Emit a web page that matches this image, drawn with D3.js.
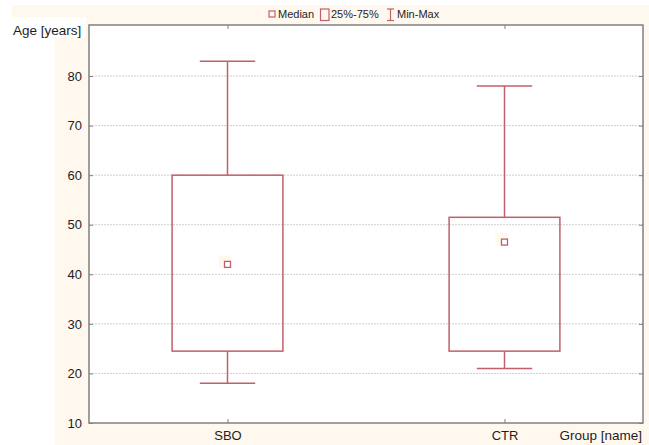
<!DOCTYPE html>
<html>
<head>
<meta charset="utf-8">
<script src="https://cdn.jsdelivr.net/npm/d3@7"></script>
<style>
  html, body { margin: 0; padding: 0; background: #ffffff; }
  svg { display: block; font-family: "Liberation Sans", Arial, sans-serif; }
</style>
</head>
<body>
<svg id="chart" width="649" height="445"></svg>
<script>
// ---- data ----
const categories = ["SBO", "CTR"];
const minValues = [18, 21];
const q1Values = [24.5, 24.5];
const medianValues = [42, 46.5];
const q3Values = [60, 51.5];
const maxValues = [83, 78];
const yTicks = [10, 20, 30, 40, 50, 60, 70, 80];
const legendLabels = ["Median", "25%-75%", "Min-Max"];
const yTitle = "Age [years]";
const xTitle = "Group [name]";

(function () {
const red = "#c0606a";
const frame = "#808080";
const textCol = "#1e1e1e";
const beige = "#fff8ef";

const svg = d3.select("#chart");

// background shapes
svg.append("rect").attr("x", 12).attr("y", 5).attr("width", 637).attr("height", 13).attr("fill", beige);
svg.append("rect").attr("x", 55).attr("y", 17).attr("width", 594).attr("height", 428).attr("fill", beige);
svg.append("rect").attr("x", 12).attr("y", 17).attr("width", 74).attr("height", 21).attr("fill", "#ffffff");

const pLeft = 89, pRight = 643, pTop = 25, pBottom = 423;

const x = d3.scalePoint().domain(categories).range([pLeft, pRight]).padding(0.5);
const y = d3.scaleLinear().domain([10, 90.3]).range([pBottom, pTop]);
const step = x.step();

// plot background
svg.append("rect").attr("x", pLeft).attr("y", pTop).attr("width", pRight - pLeft).attr("height", pBottom - pTop).attr("fill", "#ffffff");

// grid lines
svg.append("g").selectAll("line").data(yTicks.filter(d => d > 10)).join("line")
  .attr("x1", pLeft).attr("x2", pRight)
  .attr("y1", d => y(d)).attr("y2", d => y(d))
  .attr("stroke", "#cfcfcf").attr("stroke-width", 1).attr("stroke-dasharray", "2,1");

// axes
const yAxis = d3.axisLeft(y).tickValues(yTicks).tickSize(-4).tickPadding(7);
const gy = svg.append("g").attr("transform", `translate(${pLeft},0)`).call(yAxis);
gy.select(".domain").remove();
gy.selectAll(".tick line").attr("stroke", frame);
gy.selectAll(".tick text").attr("fill", textCol).style("font-size", "13px").style("font-family", "'Liberation Sans', Arial, sans-serif");

const yAxisR = d3.axisRight(y).tickValues(yTicks).tickSize(-4).tickFormat("");
const gyr = svg.append("g").attr("transform", `translate(${pRight},0)`).call(yAxisR);
gyr.select(".domain").remove();
gyr.selectAll(".tick line").attr("stroke", frame);

const xAxis = d3.axisBottom(x).tickSize(-4).tickPadding(8);
const gx = svg.append("g").attr("transform", `translate(0,${pBottom})`).call(xAxis);
gx.select(".domain").remove();
gx.selectAll(".tick line").attr("stroke", frame);
gx.selectAll(".tick text").attr("fill", textCol).style("font-size", "13px").style("font-family", "'Liberation Sans', Arial, sans-serif");

const xAxisT = d3.axisTop(x).tickSize(-4).tickFormat("");
const gxt = svg.append("g").attr("transform", `translate(0,${pTop})`).call(xAxisT);
gxt.select(".domain").remove();
gxt.selectAll(".tick line").attr("stroke", frame);

// frame
svg.append("rect").attr("x", pLeft).attr("y", pTop).attr("width", pRight - pLeft).attr("height", pBottom - pTop)
  .attr("fill", "none").attr("stroke", frame).attr("stroke-width", 1.5);

// boxes
const data = categories.map((c, i) => ({
  c, min: minValues[i], q1: q1Values[i], med: medianValues[i], q3: q3Values[i], max: maxValues[i]
}));
const boxW = step * 0.4, capW = step * 0.2;
const g = svg.append("g");
data.forEach(d => {
  const cx = x(d.c);
  g.append("line").attr("x1", cx).attr("x2", cx).attr("y1", y(d.max)).attr("y2", y(d.q3)).attr("stroke", red).attr("stroke-width", 1.5);
  g.append("line").attr("x1", cx).attr("x2", cx).attr("y1", y(d.q1)).attr("y2", y(d.min)).attr("stroke", red).attr("stroke-width", 1.5);
  g.append("line").attr("x1", cx - capW / 2).attr("x2", cx + capW / 2).attr("y1", y(d.max)).attr("y2", y(d.max)).attr("stroke", red).attr("stroke-width", 1.5);
  g.append("line").attr("x1", cx - capW / 2).attr("x2", cx + capW / 2).attr("y1", y(d.min)).attr("y2", y(d.min)).attr("stroke", red).attr("stroke-width", 1.5);
  g.append("rect").attr("x", cx - boxW / 2).attr("y", y(d.q3)).attr("width", boxW).attr("height", y(d.q1) - y(d.q3))
    .attr("fill", "none").attr("stroke", red).attr("stroke-width", 1.5);
  g.append("rect").attr("x", cx - 9).attr("y", y(d.med) - 9).attr("width", 12).attr("height", 12).attr("fill", beige);
  g.append("rect").attr("x", cx - 3).attr("y", y(d.med) - 3).attr("width", 6).attr("height", 6)
    .attr("fill", "#ffffff").attr("stroke", red).attr("stroke-width", 1.3);
});

// axis titles
svg.append("text").attr("x", 13).attr("y", 35).text(yTitle)
  .attr("fill", textCol).style("font-size", "13.5px");
svg.append("text").attr("x", 642).attr("y", 440).attr("text-anchor", "end").text(xTitle)
  .attr("fill", textCol).style("font-size", "13.5px");

// legend
const lg = svg.append("g").style("font-size", "11px").attr("fill", textCol);
lg.append("rect").attr("x", 269).attr("y", 11).attr("width", 6).attr("height", 6).attr("fill", "none").attr("stroke", red).attr("stroke-width", 1.2);
lg.append("text").attr("x", 278).attr("y", 18).text(legendLabels[0]);
lg.append("rect").attr("x", 320.5).attr("y", 9).attr("width", 8.5).attr("height", 11.5).attr("fill", "none").attr("stroke", red).attr("stroke-width", 1.2);
lg.append("text").attr("x", 331).attr("y", 18).text(legendLabels[1]);
lg.append("line").attr("x1", 390.5).attr("x2", 390.5).attr("y1", 9).attr("y2", 20.5).attr("stroke", red).attr("stroke-width", 1.2);
lg.append("line").attr("x1", 387).attr("x2", 394).attr("y1", 9).attr("y2", 9).attr("stroke", red).attr("stroke-width", 1.2);
lg.append("line").attr("x1", 387).attr("x2", 394).attr("y1", 20.5).attr("y2", 20.5).attr("stroke", red).attr("stroke-width", 1.2);
lg.append("text").attr("x", 397).attr("y", 18).text(legendLabels[2]);
})();
</script>
</body>
</html>
